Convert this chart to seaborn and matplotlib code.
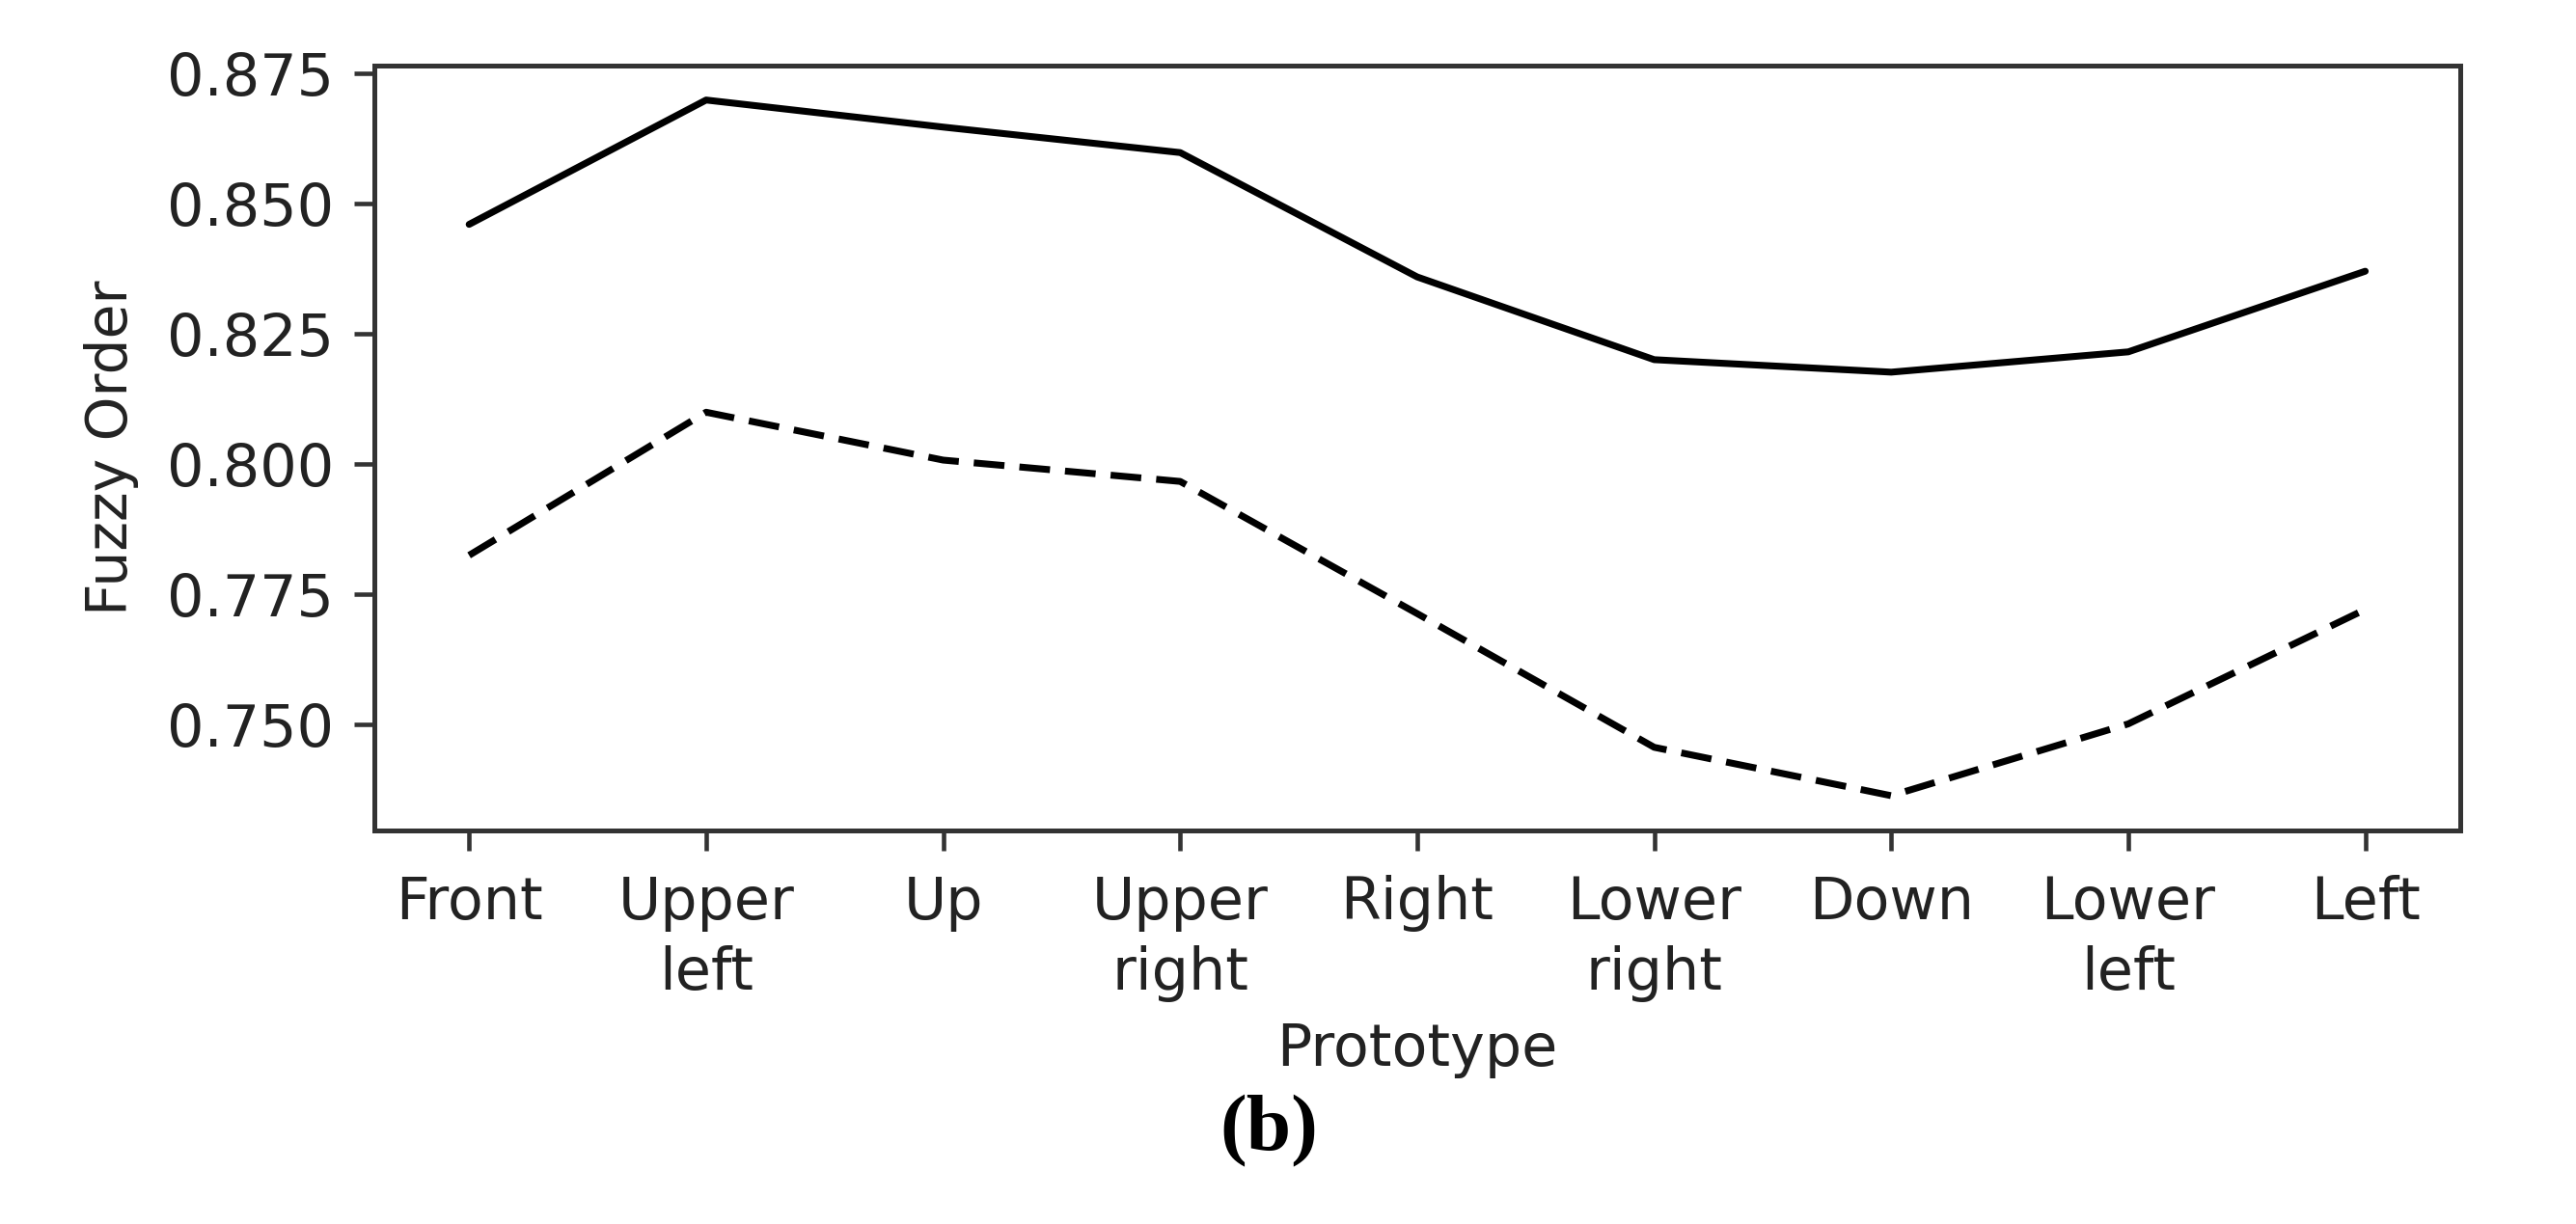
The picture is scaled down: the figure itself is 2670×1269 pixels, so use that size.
import matplotlib
matplotlib.use("Agg")
import matplotlib.pyplot as plt
import seaborn as sns
import pandas as pd

prototypes = ["Front", "Upper\nleft", "Up", "Upper\nright", "Right",
              "Lower\nright", "Down", "Lower\nleft", "Left"]
solid_values = [0.8460, 0.8699, 0.8647, 0.8598, 0.8359, 0.8200, 0.8176, 0.8215, 0.8370]
dashed_values = [0.7824, 0.8099, 0.8007, 0.7966, 0.7712, 0.7455, 0.7362, 0.7500, 0.7720]
y_ticks = [0.750, 0.775, 0.800, 0.825, 0.850, 0.875]

sns.set_theme(style="white")
plt.rcParams['font.family'] = ['DejaVu Sans']

df = pd.DataFrame({
    "Prototype": prototypes * 2,
    "Fuzzy Order": solid_values + dashed_values,
    "series": ["solid"] * len(prototypes) + ["dashed"] * len(prototypes),
})

fig = plt.figure(figsize=(8.9, 4.23), dpi=300)
ax = fig.add_axes([0.1453, 0.3215, 0.955 - 0.1453, 0.9467 - 0.3215])

sns.lineplot(data=df, x="Prototype", y="Fuzzy Order", style="series",
             dashes={"solid": "", "dashed": (4.5, 2.2)}, color="black",
             linewidth=1.7, sort=False, legend=False, ax=ax)

edge = "#333333"
ax.set_yticks(y_ticks)
ax.set_yticklabels([f"{v:.3f}" for v in y_ticks])
ax.tick_params(axis="both", which="both", labelsize=14.5, colors=edge,
               length=5, width=1.1, pad=5, labelcolor="#222222",
               left=True, bottom=True)
ax.tick_params(axis="x", pad=6)
for lbl in ax.get_xticklabels():
    lbl.set_linespacing(1.3)
for s in ax.spines.values():
    s.set_visible(True)
    s.set_color(edge)
    s.set_linewidth(1.2)

ax.set_xlabel("Prototype", fontsize=14.5, color="#222222", labelpad=5)
ax.set_ylabel("Fuzzy Order", fontsize=14, color="#222222", labelpad=7)
ax.grid(False)

fig.text(0.4925, 0.076, "(b)", ha="center", va="center", fontsize=20,
         fontweight="bold", family=["Liberation Serif", "DejaVu Serif"], color="black")

fig.savefig("out.png", dpi=300, facecolor="white")
